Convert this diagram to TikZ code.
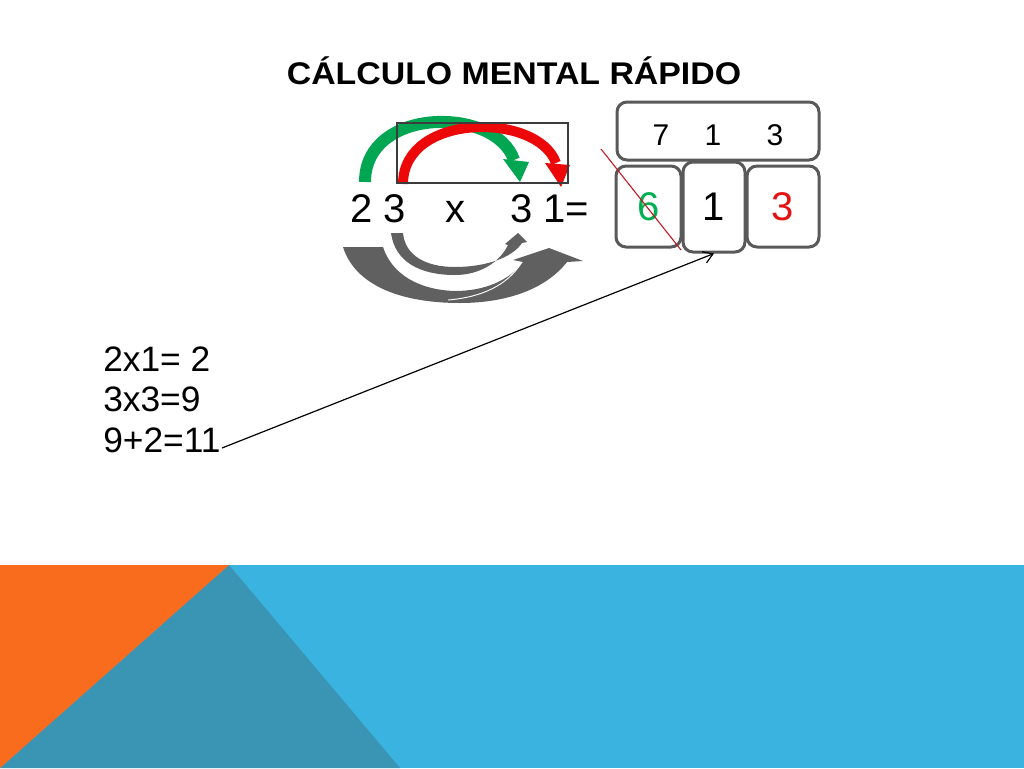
\documentclass[tikz,border=0pt]{standalone}
\usepackage{fontspec}
\usepackage{graphicx}
\setmainfont{Liberation Sans}
\usetikzlibrary{arrows.meta}
\definecolor{arcgreen}{RGB}{0,166,81}
\definecolor{arcred}{RGB}{236,8,8}
\definecolor{digitgreen}{RGB}{0,176,80}
\definecolor{digitred}{RGB}{228,18,18}
\definecolor{boxgray}{RGB}{89,89,89}
\definecolor{arrowgray}{RGB}{96,96,96}
\definecolor{diagred}{RGB}{200,20,30}
\definecolor{bandblue}{RGB}{59,179,224}
\definecolor{bandteal}{RGB}{58,148,180}
\definecolor{bandorange}{RGB}{249,108,29}
\tikzset{
  numbox/.style={draw=boxgray, line width=2.25pt, rounded corners=7.5pt, fill=white, inner sep=0pt},
  bigtxt/.style={inner sep=0pt, font=\fontsize{30}{35}\selectfont},
  toptxt/.style={inner sep=0pt, font=\fontsize{22.5}{27}\selectfont},
  lefttxt/.style={inner sep=0pt, font=\fontsize{26.5}{31}\selectfont, anchor=base west},
  grayarrow/.style={fill=arrowgray},
}
\begin{document}
\begin{tikzpicture}[x=0.75pt,y=-0.75pt]
\useasboundingbox (0,0) rectangle (1024,768);
\fill[white] (0,0) rectangle (1024,768);
% bottom band
\fill[bandblue] (0,565) rectangle (1024,768);
\fill[bandteal] (229,565) -- (400,768) -- (0,768) -- cycle;
\fill[bandorange] (0,565) -- (229,565) -- (0,768) -- cycle;
% title
\node[inner sep=0pt, anchor=base] (title) at (514,84)
  {\scalebox{1.08}[1]{\fontsize{23.5}{28}\selectfont\bfseries CÁLCULO MENTAL RÁPIDO}};
% green and red arcs
\draw[arcgreen, line width=9pt] (365,182) .. controls (365,106) and (496,106) .. (514,160);
\fill[arcgreen] (503,159) -- (529,162) -- (520,182) -- cycle;
\draw[arcred, line width=7.5pt] (403,184) .. controls (403,112) and (538,112) .. (556,163);
\fill[arcred] (545,163) -- (570,165) -- (561,187) -- cycle;
\draw[draw={rgb,255:red,60;green,60;blue,60}, line width=1.1pt] (397,123) rectangle (568,183);
% expression
\node[bigtxt, anchor=base west] (a) at (350,222) {2 3};
\node[bigtxt, anchor=base west] (x) at (445,222) {x};
\node[bigtxt, anchor=base west] (b) at (510,222) {3 1=};
% gray arrows
\fill[grayarrow] (343,247) -- (383,247)
  .. controls (392,275) and (420,290) .. (455,291)
  .. controls (485,291) and (510,280) .. (523,262)
  -- (513,260) -- (549,248) -- (583,261) -- (567,262)
  .. controls (545,290) and (505,303) .. (460,303)
  .. controls (400,303) and (355,285) .. (343,247) -- cycle;
\draw[white, line width=0.7pt] (448,300) .. controls (484,297) and (507,284) .. (520,265);
\fill[grayarrow] (391,233) .. controls (395,262) and (420,275) .. (455,275)
  .. controls (480,275) and (500,262) .. (508,245)
  -- (505,244) -- (518,233) -- (527,242) -- (522,243)
  .. controls (512,258) and (485,267) .. (455,267)
  .. controls (425,267) and (405,255) .. (403,233) -- cycle;
% boxes
\node[numbox, minimum width=151.5pt, minimum height=43.5pt] (top) at (718,131) {};
\node[toptxt, anchor=base] (t7) at (661,145) {7};
\node[toptxt, anchor=base] (t1) at (713,145) {1};
\node[toptxt, anchor=base] (t3) at (775,145) {3};
\node[numbox, minimum width=48.75pt, minimum height=60.75pt, bigtxt, text=digitgreen] (b6) at (648.5,206.5) {6};
\node[numbox, minimum width=54pt, minimum height=60.75pt, bigtxt, text=digitred] (b3) at (783,206.5) {3};
\draw[diagred, line width=0.8pt] (601,149) -- (681,250);
\node[numbox, minimum width=46.5pt, minimum height=67.5pt, bigtxt] (b1) at (714,207) {1};
% left text
\node[lefttxt] (l1) at (103,371) {2x1= 2};
\node[lefttxt] (l2) at (103,411.5) {3x3=9};
\node[lefttxt] (l3) at (103,452) {9+2=11};
\coordinate (arrstart) at (222,448);
\draw[black, line width=0.9pt, -{Straight Barb[length=7pt,width=9pt]}] (arrstart) -- (b1.south);
\end{tikzpicture}
\end{document}
